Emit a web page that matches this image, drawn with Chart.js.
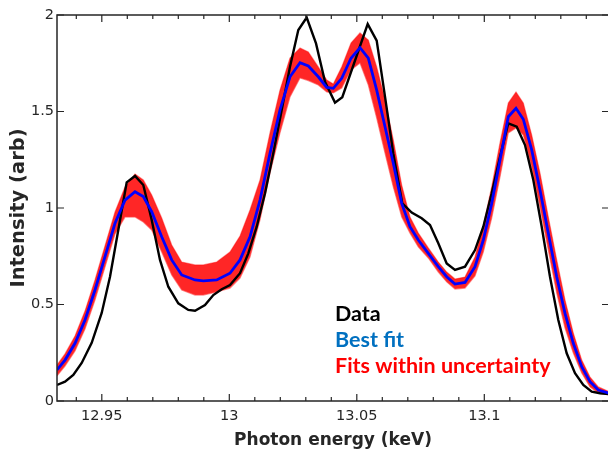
<!DOCTYPE html>
<html><head><meta charset="utf-8">
<script src="https://cdn.jsdelivr.net/npm/chart.js@4.4.1/dist/chart.umd.min.js"></script>
<style>
html,body{margin:0;padding:0;background:#fff;overflow:hidden;}
#wrap{position:relative;width:620px;height:454px;}
</style></head>
<body><div id="wrap"><canvas id="c" width="620" height="454"></canvas></div>
<script>
// Measured data (black)
const dataEnergy = [12.93243,12.93557,12.93882,12.94212,12.94604,12.94996,12.95322,12.95647,12.95976,12.96302,12.96627,12.96957,12.97282,12.97608,12.98000,12.98392,12.98655,12.99047,12.99373,12.99702,13.00027,13.00420,13.00745,13.01075,13.01400,13.01725,13.02055,13.02380,13.02706,13.03035,13.03400,13.03753,13.04145,13.04431,13.05427,13.05780,13.06106,13.06431,13.06784,13.07153,13.07545,13.07871,13.08196,13.08525,13.08851,13.09243,13.09635,13.09961,13.10290,13.10616,13.10941,13.11271,13.11596,13.11922,13.12251,13.12576,13.12902,13.13231,13.13557,13.13882,13.14212,13.14537,13.14890];
const dataIntensity = [0.083,0.100,0.135,0.197,0.301,0.456,0.644,0.886,1.133,1.166,1.119,0.938,0.731,0.592,0.506,0.472,0.468,0.497,0.549,0.579,0.601,0.662,0.765,0.903,1.076,1.283,1.508,1.732,1.922,1.987,1.853,1.654,1.546,1.574,1.953,1.867,1.577,1.283,1.024,0.976,0.947,0.912,0.817,0.713,0.679,0.696,0.782,0.903,1.076,1.266,1.439,1.421,1.326,1.145,0.903,0.644,0.420,0.247,0.144,0.083,0.048,0.040,0.036];

// Best fit (blue) and envelope of fits within uncertainty (red)
const fitEnergy = [12.93243,12.93557,12.93949,12.94341,12.94733,12.95125,12.95518,12.95910,12.96302,12.96627,12.96957,12.97349,12.97741,12.98133,12.98655,12.98980,12.99506,13.00027,13.00420,13.00812,13.01204,13.01596,13.01988,13.02380,13.02773,13.03098,13.03490,13.03820,13.04078,13.04408,13.04773,13.05125,13.05451,13.05780,13.06106,13.06431,13.06761,13.07086,13.07412,13.07804,13.08196,13.08525,13.08851,13.09243,13.09635,13.09961,13.10290,13.10616,13.10941,13.11243,13.11529,13.11859,13.12184,13.12510,13.12839,13.13165,13.13490,13.13820,13.14145,13.14471,13.14890];
const fitIntensity = [0.161,0.212,0.299,0.420,0.575,0.748,0.921,1.041,1.084,1.059,0.981,0.851,0.731,0.653,0.627,0.622,0.627,0.662,0.731,0.851,1.041,1.283,1.508,1.680,1.753,1.736,1.680,1.625,1.620,1.672,1.776,1.831,1.776,1.611,1.421,1.232,1.024,0.903,0.834,0.765,0.696,0.644,0.606,0.614,0.696,0.834,1.024,1.249,1.473,1.517,1.460,1.301,1.093,0.869,0.644,0.454,0.299,0.178,0.100,0.057,0.040];
const fitsUpper = [0.187,0.244,0.337,0.466,0.627,0.803,0.979,1.109,1.176,1.145,1.067,0.948,0.808,0.720,0.705,0.705,0.720,0.772,0.855,0.990,1.145,1.389,1.611,1.777,1.829,1.808,1.731,1.663,1.642,1.731,1.855,1.907,1.870,1.731,1.560,1.352,1.119,0.953,0.870,0.793,0.720,0.668,0.632,0.642,0.746,0.907,1.109,1.337,1.544,1.601,1.544,1.378,1.181,0.953,0.731,0.523,0.352,0.212,0.124,0.073,0.049];
const fitsLower = [0.130,0.181,0.259,0.373,0.523,0.694,0.865,0.953,0.953,0.927,0.886,0.772,0.653,0.575,0.549,0.549,0.565,0.585,0.637,0.746,0.938,1.181,1.389,1.575,1.674,1.660,1.637,1.601,1.596,1.622,1.715,1.751,1.637,1.466,1.285,1.109,0.953,0.870,0.798,0.741,0.668,0.617,0.580,0.585,0.648,0.772,0.948,1.161,1.389,1.415,1.378,1.212,1.005,0.782,0.560,0.378,0.249,0.145,0.073,0.041,0.031];

// Axes
const xMin = 12.93243, xMax = 13.1489;
const xTickValues = [12.94,12.95,12.96,12.97,12.98,12.99,13.00,13.01,13.02,13.03,13.04,13.05,13.06,13.07,13.08,13.09,13.10,13.11,13.12,13.13,13.14];
const xMajorTicks = [12.95,13.00,13.05,13.10];
const xTickLabels = ['12.95','13','13.05','13.1'];
const yTickValues = [0,0.5,1,1.5,2];
const yTickLabels = ['0','0.5','1','1.5','2'];
const xTitle = 'Photon energy (keV)';
const yTitle = 'Intensity (arb)';
const legendLabels = ['Data','Best fit','Fits within uncertainty'];
const legendColors = ['#000000','#0070C0','#FF0000'];

const pts = (xs, ys) => xs.map((x, i) => ({x: x, y: ys[i]}));
const isMajor = v => xMajorTicks.some(m => Math.abs(m - v) < 1e-6);
const AXIS = '#262626';

const framePlugin = {
  id: 'frame',
  afterDraw(chart) {
    const {ctx, chartArea: a, scales} = chart;
    ctx.save();
    ctx.strokeStyle = AXIS;
    ctx.lineWidth = 1.5;
    ctx.beginPath();
    ctx.rect(a.left, a.top, a.right - a.left, a.bottom - a.top);
    ctx.stroke();
    ctx.lineWidth = 1.2;
    ctx.beginPath();
    scales.x.ticks.forEach(t => {
      const px = scales.x.getPixelForValue(t.value);
      const len = isMajor(t.value) ? 7 : 4;
      ctx.moveTo(px, a.bottom); ctx.lineTo(px, a.bottom - len);
      ctx.moveTo(px, a.top); ctx.lineTo(px, a.top + len);
    });
    scales.y.ticks.forEach(t => {
      const py = scales.y.getPixelForValue(t.value);
      ctx.moveTo(a.left, py); ctx.lineTo(a.left + 7, py);
      ctx.moveTo(a.right, py); ctx.lineTo(a.right - 7, py);
    });
    ctx.stroke();
    // annotation legend
    ctx.font = 'bold 21.5px Lato';
    ctx.textBaseline = 'alphabetic';
    ctx.textAlign = 'left';
    const lx = 335, ly = [321, 347, 373];
    legendLabels.forEach((s, i) => {
      ctx.fillStyle = legendColors[i];
      ctx.fillText(s, lx, ly[i]);
    });
    ctx.restore();
  }
};

new Chart(document.getElementById('c'), {
  type: 'line',
  data: {
    datasets: [
      {label: 'upper', data: pts(fitEnergy, fitsUpper), borderColor: 'rgba(255,70,70,0.6)', borderWidth: 1.2, pointRadius: 0, fill: false, order: 3, tension: 0},
      {label: 'lower', data: pts(fitEnergy, fitsLower), borderColor: 'rgba(255,70,70,0.6)', borderWidth: 1.2, pointRadius: 0, fill: '-1', backgroundColor: 'rgba(255,0,0,0.85)', order: 2, tension: 0},
      {label: 'Data', data: pts(dataEnergy, dataIntensity), borderColor: '#000000', borderWidth: 2.4, pointRadius: 0, fill: false, order: 1, tension: 0},
      {label: 'Best fit', data: pts(fitEnergy, fitIntensity), borderColor: '#0000FF', borderWidth: 2.8, pointRadius: 0, fill: false, order: 0, tension: 0}
    ]
  },
  options: {
    responsive: false,
    animation: false,
    devicePixelRatio: 1,
    layout: {padding: {left: 0, top: 15, right: 11, bottom: 0}},
    plugins: {legend: {display: false}, tooltip: {enabled: false}},
    scales: {
      x: {
        type: 'linear', min: xMin, max: xMax,
        grid: {display: false, drawTicks: false},
        border: {display: false},
        afterBuildTicks: s => { s.ticks = xTickValues.map(v => ({value: v})); },
        afterFit: s => { s.height = 53; },
        ticks: {
          autoSkip: false, maxRotation: 0, padding: 7, color: AXIS,
          font: {family: 'DejaVu Sans', size: 14.5},
          callback: v => { const i = xMajorTicks.findIndex(m => Math.abs(m - v) < 1e-6); return i >= 0 ? xTickLabels[i] : ''; }
        },
        title: {display: true, text: xTitle, color: AXIS, padding: {top: 4, bottom: 3}, font: {family: 'DejaVu Sans', size: 17, weight: 'bold'}}
      },
      y: {
        type: 'linear', min: 0, max: 2,
        grid: {display: false, drawTicks: false},
        border: {display: false},
        afterBuildTicks: s => { s.ticks = yTickValues.map(v => ({value: v})); },
        afterFit: s => { s.width = 57; },
        ticks: {
          autoSkip: false, padding: 3, color: AXIS,
          font: {family: 'DejaVu Sans', size: 14.5},
          callback: (v, i) => yTickLabels[yTickValues.indexOf(v)]
        },
        title: {display: true, text: yTitle, color: AXIS, padding: {top: 7, bottom: 0}, font: {family: 'DejaVu Sans', size: 19.5, weight: 'bold'}}
      }
    }
  },
  plugins: [framePlugin]
});
</script>
</body></html>
